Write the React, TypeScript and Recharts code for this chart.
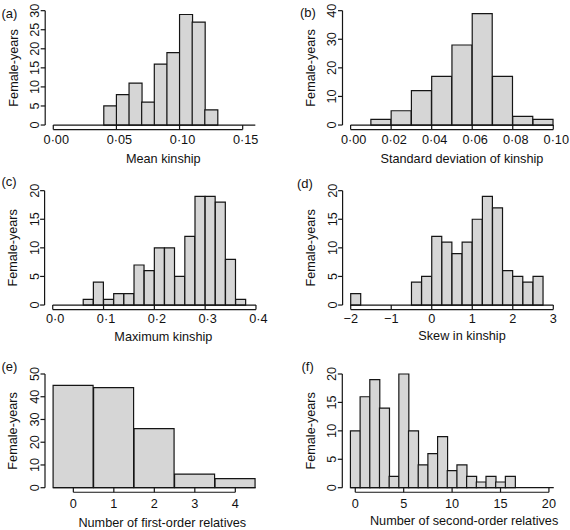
import React from 'react';
import { BarChart, Bar, XAxis, YAxis, ReferenceLine } from 'recharts';

// (a) Mean kinship
const meanKinshipBreaks = [0.0, 0.01, 0.02, 0.03, 0.04, 0.05, 0.06, 0.07, 0.08, 0.09, 0.1, 0.11, 0.12, 0.13, 0.14, 0.15, 0.16];
const meanKinshipCounts = [0, 0, 0, 0, 5, 8, 11, 6, 16, 19, 29, 27, 4, 0, 0, 0];
const meanKinshipXTicks = [0, 0.05, 0.1, 0.15];
const meanKinshipXLabels = ['0·00', '0·05', '0·10', '0·15'];
const meanKinshipYTicks = [0, 5, 10, 15, 20, 25, 30];

// (b) Standard deviation of kinship
const sdKinshipBreaks = [0.0, 0.01, 0.02, 0.03, 0.04, 0.05, 0.06, 0.07, 0.08, 0.09, 0.1];
const sdKinshipCounts = [0, 2, 5, 12, 17, 28, 39, 17, 3, 2];
const sdKinshipXTicks = [0, 0.02, 0.04, 0.06, 0.08, 0.1];
const sdKinshipXLabels = ['0·00', '0·02', '0·04', '0·06', '0·08', '0·10'];
const sdKinshipYTicks = [0, 10, 20, 30, 40];

// (c) Maximum kinship
const maxKinshipBreaks = [0.0, 0.02, 0.04, 0.06, 0.08, 0.1, 0.12, 0.14, 0.16, 0.18, 0.2, 0.22, 0.24, 0.26, 0.28, 0.3, 0.32, 0.34, 0.36, 0.38, 0.4];
const maxKinshipCounts = [0, 0, 0, 1, 4, 1, 2, 2, 7, 6, 10, 10, 5, 12, 19, 19, 18, 8, 1, 0];
const maxKinshipXTicks = [0, 0.1, 0.2, 0.3, 0.4];
const maxKinshipXLabels = ['0·0', '0·1', '0·2', '0·3', '0·4'];
const maxKinshipYTicks = [0, 5, 10, 15, 20];

// (d) Skew in kinship
const skewBreaks = [-2, -1.75, -1.5, -1.25, -1, -0.75, -0.5, -0.25, 0, 0.25, 0.5, 0.75, 1, 1.25, 1.5, 1.75, 2, 2.25, 2.5, 2.75, 3];
const skewCounts = [2, 0, 0, 0, 0, 0, 4, 5, 12, 11, 9, 11, 15, 19, 17, 6, 5, 4, 5, 0];
const skewXTicks = [-2, -1, 0, 1, 2, 3];
const skewXLabels = ['\u22122', '\u22121', '0', '1', '2', '3'];
const skewYTicks = [0, 5, 10, 15, 20];

// (e) Number of first-order relatives
const firstOrderBreaks = [-0.5, 0.5, 1.5, 2.5, 3.5, 4.5];
const firstOrderCounts = [45, 44, 26, 6, 4];
const firstOrderXTicks = [0, 1, 2, 3, 4];
const firstOrderXLabels = ['0', '1', '2', '3', '4'];
const firstOrderYTicks = [0, 10, 20, 30, 40, 50];

// (f) Number of second-order relatives
const secondOrderBreaks = [-0.5, 0.5, 1.5, 2.5, 3.5, 4.5, 5.5, 6.5, 7.5, 8.5, 9.5, 10.5, 11.5, 12.5, 13.5, 14.5, 15.5, 16.5, 17.5, 18.5, 19.5, 20.5];
const secondOrderCounts = [10, 16, 19, 14, 2, 20, 10, 4, 6, 9, 3, 4, 2, 1, 2, 1, 2, 0, 0, 0, 0];
const secondOrderXTicks = [0, 5, 10, 15, 20];
const secondOrderXLabels = ['0', '5', '10', '15', '20'];
const secondOrderYTicks = [0, 5, 10, 15, 20];

const FONT = '"Liberation Sans", Arial, Helvetica, sans-serif';
const FS = 12.7;
const INK = '#151515';
const TEXT = '#111';
const FILL = '#d6d6d6';

function XTick(props: any) {
  const { x, y, payload, ticks, labels, dx, labelDy } = props;
  const i = ticks.findIndex((t: number) => Math.abs(t - payload.value) < 1e-9);
  return (
    <g>
      <line x1={x} y1={y} x2={x} y2={y - 4.5} stroke={INK} strokeWidth={1.2} />
      <text x={x + dx} y={y + labelDy} textAnchor="middle" dominantBaseline="central" fontSize={FS} fontFamily={FONT} fill={TEXT}>
        {i >= 0 ? labels[i] : ''}
      </text>
    </g>
  );
}

function YTick(props: any) {
  const { x, y, payload } = props;
  const tx = x - 10;
  return (
    <g>
      <line x1={x - 4.5} y1={y} x2={x} y2={y} stroke={INK} strokeWidth={1.2} />
      <text x={tx} y={y} transform={`rotate(-90 ${tx} ${y})`} textAnchor="middle" dominantBaseline="central" fontSize={FS} fontFamily={FONT} fill={TEXT}>
        {String(payload.value)}
      </text>
    </g>
  );
}

function XTitle(props: any) {
  const { viewBox, text, dx, dy } = props;
  const cx = viewBox.x + viewBox.width / 2 + dx;
  const cy = viewBox.y + dy;
  return (
    <text x={cx} y={cy} textAnchor="middle" dominantBaseline="central" fontSize={FS} fontFamily={FONT} fill={TEXT}>
      {text}
    </text>
  );
}

function YTitle(props: any) {
  const { viewBox, text } = props;
  const cx = viewBox.x + viewBox.width - 31.5;
  const cy = viewBox.y + viewBox.height / 2;
  return (
    <text x={cx} y={cy} transform={`rotate(-90 ${cx} ${cy})`} textAnchor="middle" dominantBaseline="central" fontSize={FS} fontFamily={FONT} fill={TEXT}>
      {text}
    </text>
  );
}

function Histogram(props: any) {
  const {
    breaks, counts, xTicks, xLabels, yTicks, xlim, ylim, xTitle,
    left, top, width, height, margin, yAxisWidth, xAxisHeight, tickDx, labelDy, titleDx, titleDy,
  } = props;
  const data = counts.map((c: number, i: number) => ({ mid: (breaks[i] + breaks[i + 1]) / 2, count: c }));
  const xPad = (xlim[1] - xlim[0]) * 0.04;
  const yPad = (ylim[1] - ylim[0]) * 0.04;
  const xDomain = [xlim[0] - xPad, xlim[1] + xPad];
  const yDomain = [ylim[0] - yPad, ylim[1] + yPad];
  return (
    <div style={{ position: 'absolute', left, top, width, height }}>
      <BarChart width={width} height={height} data={data} margin={margin} barCategoryGap={0} barGap={0}>
        <XAxis
          type="number"
          dataKey="mid"
          domain={xDomain}
          allowDataOverflow
          ticks={xTicks}
          interval={0}
          axisLine={false}
          tickLine={false}
          tickSize={0}
          tickMargin={0}
          height={xAxisHeight}
          tick={(p: any) => <XTick {...p} ticks={xTicks} labels={xLabels} dx={tickDx} labelDy={labelDy} />}
          label={<XTitle text={xTitle} dx={titleDx} dy={titleDy} />}
        />
        <YAxis
          type="number"
          domain={yDomain}
          allowDataOverflow
          ticks={yTicks}
          interval={0}
          axisLine={false}
          tickLine={false}
          tickSize={0}
          tickMargin={0}
          width={yAxisWidth}
          tick={(p: any) => <YTick {...p} />}
          label={<YTitle text="Female-years" />}
        />
        <Bar dataKey="count" fill={FILL} stroke={INK} strokeWidth={1.2} isAnimationActive={false} />
        <ReferenceLine
          segment={[{ x: breaks[0], y: 0 }, { x: breaks[breaks.length - 1], y: 0 }]}
          stroke={INK}
          strokeWidth={1.2}
          ifOverflow="visible"
        />
        <ReferenceLine
          segment={[{ x: xTicks[0], y: yDomain[0] }, { x: xTicks[xTicks.length - 1], y: yDomain[0] }]}
          stroke={INK}
          strokeWidth={1.2}
          ifOverflow="visible"
        />
        <ReferenceLine
          segment={[{ x: xDomain[0], y: yTicks[0] }, { x: xDomain[0], y: yTicks[yTicks.length - 1] }]}
          stroke={INK}
          strokeWidth={1.2}
          ifOverflow="visible"
        />
      </BarChart>
    </div>
  );
}

const panelLabels = ['(a)', '(b)', '(c)', '(d)', '(e)', '(f)'];

export default function App() {
  return (
    <div style={{ position: 'absolute', left: 0, top: 0, width: 570, height: 530, background: '#fff', overflow: 'hidden' }}>
      <Histogram
        breaks={meanKinshipBreaks} counts={meanKinshipCounts} xTicks={meanKinshipXTicks} xLabels={meanKinshipXLabels}
        yTicks={meanKinshipYTicks} xlim={[0, 0.16]} ylim={[0, 30]} xTitle="Mean kinship"
        left={0} top={0} width={285} height={175} margin={{ top: 6.1, right: 21.6, bottom: 0, left: 0 }}
        yAxisWidth={45.2} xAxisHeight={45.4} tickDx={3} labelDy={10} titleDx={9} titleDy={29}
      />
      <Histogram
        breaks={sdKinshipBreaks} counts={sdKinshipCounts} xTicks={sdKinshipXTicks} xLabels={sdKinshipXLabels}
        yTicks={sdKinshipYTicks} xlim={[0, 0.1]} ylim={[0, 40]} xTitle="Standard deviation of kinship"
        left={285} top={0} width={285} height={175} margin={{ top: 6.1, right: 8.6, bottom: 0, left: 0 }}
        yAxisWidth={57.5} xAxisHeight={45.4} tickDx={3} labelDy={10} titleDx={10} titleDy={29}
      />
      <Histogram
        breaks={maxKinshipBreaks} counts={maxKinshipCounts} xTicks={maxKinshipXTicks} xLabels={maxKinshipXLabels}
        yTicks={maxKinshipYTicks} xlim={[0, 0.4]} ylim={[0, 20]} xTitle="Maximum kinship"
        left={0} top={175} width={285} height={175} margin={{ top: 11.1, right: 20.9, bottom: 0, left: 0 }}
        yAxisWidth={44.6} xAxisHeight={40.4} tickDx={2.5} labelDy={9.6} titleDx={9} titleDy={27.5}
      />
      <Histogram
        breaks={skewBreaks} counts={skewCounts} xTicks={skewXTicks} xLabels={skewXLabels}
        yTicks={skewYTicks} xlim={[-2, 3]} ylim={[0, 20]} xTitle="Skew in kinship"
        left={285} top={175} width={285} height={175} margin={{ top: 11.1, right: 8.6, bottom: 0, left: 0 }}
        yAxisWidth={57.6} xAxisHeight={40.4} tickDx={0} labelDy={9.6} titleDx={10} titleDy={26.5}
      />
      <Histogram
        breaks={firstOrderBreaks} counts={firstOrderCounts} xTicks={firstOrderXTicks} xLabels={firstOrderXLabels}
        yTicks={firstOrderYTicks} xlim={[-0.5, 4.5]} ylim={[0, 50]} xTitle="Number of first-order relatives"
        left={0} top={350} width={285} height={180} margin={{ top: 19.45, right: 21.35, bottom: 0, left: 0 }}
        yAxisWidth={45} xAxisHeight={37.75} tickDx={0} labelDy={11.5} titleDx={8} titleDy={30.5}
      />
      <Histogram
        breaks={secondOrderBreaks} counts={secondOrderCounts} xTicks={secondOrderXTicks} xLabels={secondOrderXLabels}
        yTicks={secondOrderYTicks} xlim={[-0.5, 20.5]} ylim={[0, 20]} xTitle="Number of second-order relatives"
        left={285} top={350} width={285} height={180} margin={{ top: 19.45, right: 8.1, bottom: 0, left: 0 }}
        yAxisWidth={57.3} xAxisHeight={37.75} tickDx={0} labelDy={11.5} titleDx={12} titleDy={29}
      />
      <svg width={570} height={530} style={{ position: 'absolute', left: 0, top: 0, pointerEvents: 'none' }}>
        {[
          [1.5, 13.5], [300, 12], [1.5, 181.5], [297, 183], [1.5, 366.5], [301.5, 366.5],
        ].map(([x, y], i) => (
          <text key={panelLabels[i]} x={x} y={y} dominantBaseline="central" fontSize={13} fontFamily={FONT} fill={TEXT}>
            {panelLabels[i]}
          </text>
        ))}
      </svg>
    </div>
  );
}
